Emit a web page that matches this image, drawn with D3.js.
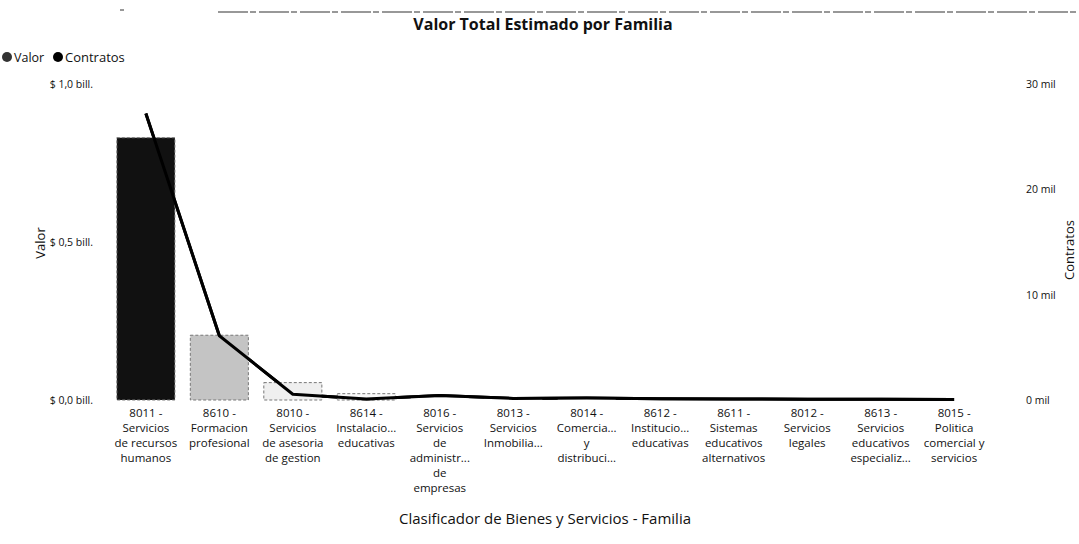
<!DOCTYPE html>
<html><head><meta charset="utf-8">
<script src="https://cdn.jsdelivr.net/npm/d3@7"></script>
<style>
body{margin:0;background:#fff;}
svg{display:block;}
text{font-family:"Open Sans","Noto Sans",sans-serif;fill:#111;}
</style></head><body>
<svg id="chart" width="1079" height="544"></svg>
<script>
const categories = ["8011","8610","8010","8614","8016","8013","8014","8612","8611","8012","8613","8015"];
const tickLabels = [
  ["8011 -","Servicios","de recursos","humanos"],
  ["8610 -","Formacion","profesional"],
  ["8010 -","Servicios","de asesoria","de gestion"],
  ["8614 -","Instalacio...","educativas"],
  ["8016 -","Servicios","de","administr...","de","empresas"],
  ["8013 -","Servicios","Inmobilia..."],
  ["8014 -","Comercia...","y","distribuci..."],
  ["8612 -","Institucio...","educativas"],
  ["8611 -","Sistemas","educativos","alternativos"],
  ["8012 -","Servicios","legales"],
  ["8613 -","Servicios","educativos","especializ..."],
  ["8015 -","Politica","comercial y","servicios"]
];
// Valor in billions (bill.)
const valor = [0.830, 0.205, 0.055, 0.020, 0.008, 0.004, 0.003, 0.002, 0.002, 0.001, 0.001, 0.0005];
// Contratos in thousands (mil)
const contratos = [27.2, 6.1, 0.55, 0.1, 0.42, 0.15, 0.2, 0.12, 0.1, 0.08, 0.06, 0.04];
const leftTicks = [0, 0.5, 1.0];
const leftTickLabels = ["$ 0,0 bill.","$ 0,5 bill.","$ 1,0 bill."];
const rightTicks = [0, 10, 20, 30];
const rightTickLabels = ["0 mil","10 mil","20 mil","30 mil"];

const svg = d3.select("#chart");
const x = d3.scaleBand().domain(categories).range([109.5, 990.5]).paddingInner(0.21).paddingOuter(0.1);
const yL = d3.scaleLinear().domain([0, 1.0]).range([400, 84]);
const yR = d3.scaleLinear().domain([0, 30]).range([400, 84]);
const shade = d3.scaleLinear().domain([0, d3.max(valor)]).range(["#ffffff", "#111111"]);

// scan artifact line at top
svg.append("line").attr("x1",218).attr("x2",1079).attr("y1",12).attr("y2",12)
  .attr("stroke","#333").attr("stroke-width",1.2).attr("stroke-dasharray","30,2,6,3");
svg.append("line").attr("x1",120).attr("x2",124).attr("y1",10).attr("y2",10).attr("stroke","#333");

// Title
svg.append("text").attr("x",543).attr("y",30).attr("text-anchor","middle")
  .style("font-weight","bold").style("font-size","16px").text("Valor Total Estimado por Familia");

// Legend
const lg = svg.append("g").attr("transform","translate(0,57)");
lg.append("circle").attr("cx",7).attr("cy",0).attr("r",5).attr("fill","#333");
lg.append("text").attr("x",14).attr("y",4.5).style("font-size","12.5px").text("Valor");
lg.append("circle").attr("cx",58).attr("cy",0).attr("r",5).attr("fill","#000");
lg.append("text").attr("x",65).attr("y",4.5).style("font-size","13px").text("Contratos");

// Left axis
const axL = d3.axisLeft(yL).tickValues(leftTicks).tickSize(0).tickPadding(0)
  .tickFormat((d,i)=>leftTickLabels[i]);
const gL = svg.append("g").attr("transform","translate(93,0)").call(axL);
gL.select(".domain").remove();
gL.selectAll("text").style("font-size","10.5px").style("font-family","'Open Sans',sans-serif").attr("fill","#111");

// Right axis
const axR = d3.axisRight(yR).tickValues(rightTicks).tickSize(0).tickPadding(0)
  .tickFormat((d,i)=>rightTickLabels[i]);
const gR = svg.append("g").attr("transform","translate(1026,0)").call(axR);
gR.select(".domain").remove();
gR.selectAll("text").style("font-size","10.5px").style("font-family","'Open Sans',sans-serif").attr("fill","#111");

// Axis titles
svg.append("text").attr("transform","translate(45,243) rotate(-90)").attr("text-anchor","middle")
  .style("font-size","13px").text("Valor");
svg.append("text").attr("transform","translate(1074,250) rotate(-90)").attr("text-anchor","middle")
  .style("font-size","13px").text("Contratos");
svg.append("text").attr("x",545).attr("y",524).attr("text-anchor","middle")
  .style("font-size","15px").text("Clasificador de Bienes y Servicios - Familia");

// Line (Contratos)
const line = d3.line().x((d,i)=>x(categories[i]) + x.bandwidth()/2).y(d=>yR(d));
svg.append("path").datum(contratos).attr("d", line).attr("fill","none")
  .attr("stroke","#000").attr("stroke-width",3).attr("stroke-linejoin","round");

// Bars
svg.append("g").selectAll("rect").data(valor).join("rect")
  .attr("x",(d,i)=>x(categories[i]))
  .attr("y",d=>yL(d))
  .attr("width",x.bandwidth())
  .attr("height",d=>yL(0)-yL(d))
  .attr("fill",d=>shade(d))
  .attr("stroke",(d,i)=> i<4 ? "#777" : "none")
  .attr("stroke-width",1)
  .attr("stroke-dasharray","3,2");

// Line on top for the part outside the dark bar
svg.append("path").datum(contratos).attr("d", line).attr("fill","none")
  .attr("stroke","#000").attr("stroke-width",3).attr("stroke-linejoin","round");

// X tick labels
const gx = svg.append("g");
tickLabels.forEach((lines,i)=>{
  const cx = x(categories[i]) + x.bandwidth()/2;
  const t = gx.append("text").attr("text-anchor","middle").style("font-size","11.5px");
  lines.forEach((s,j)=>{
    t.append("tspan").attr("x",cx).attr("y",417 + j*15).text(s);
  });
});
</script>
</body></html>
